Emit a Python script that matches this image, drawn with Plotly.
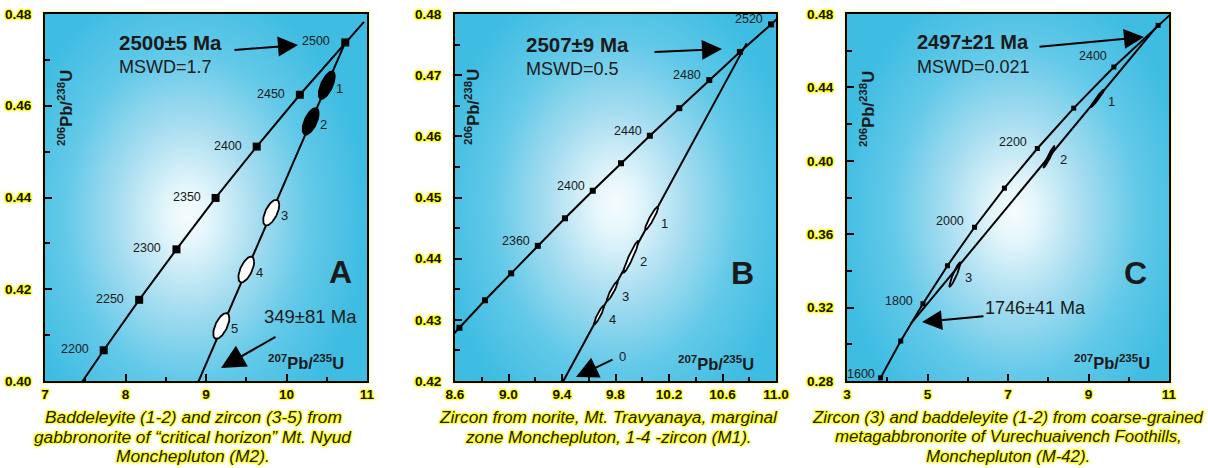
import numpy as np
import plotly.graph_objects as go

W, H = 1208, 468
FONT = "Arial, Liberation Sans, sans-serif"
GLOW = ("1px 1px 1px #ffff00, -1px -1px 1px #ffff00, 1px -1px 1px #ffff00, "
        "-1px 1px 1px #ffff00, 0px 0px 3px #ffff00")

# ================= DATA =================
# Panel A : concordia markers (age Ma, 207Pb/235U, 206Pb/238U)
A_age = [2200, 2250, 2300, 2350, 2400, 2450, 2500]
A_x = [7.729, 8.170, 8.633, 9.119, 9.630, 10.166, 10.730]
A_y = [0.4067, 0.4177, 0.4287, 0.4399, 0.4511, 0.4624, 0.4738]
A_end_x = [7.310, 10.963]          # concordia continues (2150 / 2520 Ma)
A_end_y = [0.3959, 0.4783]
A_lab = [2200, 2250, 2300, 2350, 2400, 2450, 2500]
A_disc_x = [0.410, 10.730]          # 349 Ma lower / 2500 Ma upper intercept
A_disc_y = [0.0556, 0.4738]
A_ell_id = ["1", "2", "3", "4", "5"]
A_ell_x = [10.50, 10.30, 9.81, 9.50, 9.19]
A_ell_y = [0.4645, 0.4566, 0.4367, 0.4243, 0.4120]
A_ell_sx = [0.100, 0.100, 0.100, 0.098, 0.100]
A_ell_sy = [0.0030, 0.0029, 0.0028, 0.0028, 0.0028]
A_ell_rho = [0.65, 0.60, 0.60, 0.60, 0.60]
A_ell_fill = ["black", "black", "white", "white", "white"]

# Panel B
B_age = [2300, 2320, 2340, 2360, 2380, 2400, 2420, 2440, 2460, 2480, 2500, 2520]
B_x = [8.633, 8.824, 9.020, 9.219, 9.422, 9.630, 9.841, 10.057, 10.277, 10.501, 10.730, 10.963]
B_y = [0.4287, 0.4332, 0.4376, 0.4421, 0.4466, 0.4511, 0.4556, 0.4601, 0.4646, 0.4692, 0.4738, 0.4783]
B_end_x = [8.445, 11.022]
B_end_y = [0.4243, 0.4795]
B_lab = [2360, 2400, 2440, 2480, 2520]
B_disc_x = [9.41, 10.78]
B_disc_y = [0.4200, 0.4752]
B_ell_id = ["1", "2", "3", "4"]
B_ell_x = [10.07, 9.915, 9.776, 9.677]
B_ell_y = [0.4466, 0.4403, 0.4347, 0.4308]
B_ell_sx = [0.049, 0.056, 0.041, 0.037]
B_ell_sy = [0.0019, 0.0026, 0.0016, 0.0015]
B_ell_rho = [0.93, 0.95, 0.93, 0.92]
B_ell_fill = ["white", "white", "white", "white"]

# Panel C
C_age = [1600, 1700, 1800, 1900, 2000, 2100, 2200, 2300, 2400, 2500]
C_x = [3.834, 4.335, 4.887, 5.496, 6.169, 6.911, 7.729, 8.633, 9.630, 10.730]
C_y = [0.2817, 0.3018, 0.3221, 0.3428, 0.3638, 0.3851, 0.4067, 0.4287, 0.4511, 0.4738]
C_end_x = [3.834, 11.022]
C_end_y = [0.2817, 0.4795]
C_lab = [1600, 1800, 2000, 2200, 2400]
C_disc_x = [4.582, 10.695]          # 1746 Ma lower / 2497 Ma upper intercept
C_disc_y = [0.3111, 0.4731]
C_ell_id = ["1", "2", "3"]
C_ell_x = [9.22, 8.02, 5.68]
C_ell_y = [0.4340, 0.4022, 0.3380]
C_ell_sx = [0.161, 0.137, 0.137]
C_ell_sy = [0.0047, 0.0058, 0.0066]
C_ell_rho = [0.97, 0.96, 0.93]
C_ell_fill = ["black", "black", "rgba(0,0,0,0)"]

# captions (one entry per line)
capA = ["Baddeleyite (1-2) and zircon (3-5) from",
        "gabbronorite of “critical horizon” Mt. Nyud",
        "Monchepluton (M2)."]
capB = ["Zircon from norite, Mt. Travyanaya, marginal",
        "zone Monchepluton, 1-4 -zircon (M1)."]
capC = ["Zircon (3) and baddeleyite (1-2) from coarse-grained",
        "metagabbronorite of Vurechuaivench Foothills,",
        "Monchepluton (M-42)."]

# ================= STYLE / LAYOUT =================
panels = [
    dict(key="", dom=(45, 367), xr=(7, 11), yr=(0.40, 0.48),
         xd=1, xm=0.5, xf="d", yd=0.02, ym=0.01, yf=".2f",
         age=A_age, x=A_x, y=A_y, ex=A_end_x, ey=A_end_y, lab=A_lab,
         dx=A_disc_x, dy=A_disc_y, ms=8,
         lab_shift=[(-13, 1)] * 7,
         ell=(A_ell_id, A_ell_x, A_ell_y, A_ell_sx, A_ell_sy, A_ell_rho, A_ell_fill),
         ell_shift=(13, -3), grad=(0.44, 0.55, 180, 240)),
    dict(key="2", dom=(455, 776), xr=(8.6, 11.0), yr=(0.42, 0.48),
         xd=0.4, xm=0.2, xf=".1f", yd=0.01, ym=0.005, yf=".2f",
         age=B_age, x=B_x, y=B_y, ex=B_end_x, ey=B_end_y, lab=B_lab,
         dx=B_disc_x, dy=B_disc_y, ms=6,
         lab_shift=[(-6, 5)] * 5,
         ell=(B_ell_id, B_ell_x, B_ell_y, B_ell_sx, B_ell_sy, B_ell_rho, B_ell_fill),
         ell_shift=(13, -5), grad=(0.50, 0.52, 180, 240)),
    dict(key="3", dom=(847, 1169), xr=(3, 11), yr=(0.28, 0.48),
         xd=2, xm=1, xf="d", yd=0.04, ym=0.02, yf=".2f",
         age=C_age, x=C_x, y=C_y, ex=C_end_x, ey=C_end_y, lab=C_lab,
         dx=C_disc_x, dy=C_disc_y, ms=5,
         lab_shift=[(-4, 4), (-8, 3), (-9, 6), (-8, 7), (-5, 11)],
         ell=(C_ell_id, C_ell_x, C_ell_y, C_ell_sx, C_ell_sy, C_ell_rho, C_ell_fill),
         ell_shift=(14, -3), grad=(0.52, 0.54, 180, 240)),
]
TOP, BOT = 14, 381
ydom = [1 - BOT / H, 1 - TOP / H]


def P(px, py):
    return px / W, 1 - py / H


fig = go.Figure()
annotations = []
shapes = []
layout = dict(width=W, height=H, margin=dict(l=0, r=0, t=0, b=0, autoexpand=False),
              paper_bgcolor="white", plot_bgcolor="rgba(0,0,0,0)", showlegend=False)

gscale = [[0.0, "#f7fcfe"], [0.12, "#e4f6fb"], [0.38, "#a8ddf0"],
          [0.68, "#63c9e8"], [1.0, "#3ebce2"]]

for p in panels:
    k = p["key"]
    xa, ya = "x" + k, "y" + k
    x0, x1 = p["dom"]
    wpx, hpx = x1 - x0, BOT - TOP
    # ---- background radial gradient ----
    n = 70
    u = np.linspace(0, 1, n)
    gx = p["xr"][0] + u * (p["xr"][1] - p["xr"][0])
    gy = p["yr"][0] + u * (p["yr"][1] - p["yr"][0])
    U, V = np.meshgrid(u, u)
    cxf, cyf, rx, ry = p["grad"]
    z = np.sqrt(((U - cxf) * wpx / rx) ** 2 + (((1 - V) - cyf) * hpx / ry) ** 2)
    z = np.clip(z, 0, 1)
    fig.add_trace(go.Heatmap(x=gx, y=gy, z=z, colorscale=gscale, zmin=0, zmax=1,
                             zsmooth="best", showscale=False, hoverinfo="skip",
                             xaxis=xa, yaxis=ya))
    # ---- discordia ----
    fig.add_trace(go.Scatter(x=p["dx"], y=p["dy"], mode="lines",
                             line=dict(color="black", width=2), xaxis=xa, yaxis=ya,
                             hoverinfo="skip"))
    # ---- concordia ----
    lx = [p["ex"][0]] + list(p["x"]) + [p["ex"][1]]
    ly = [p["ey"][0]] + list(p["y"]) + [p["ey"][1]]
    fig.add_trace(go.Scatter(x=lx, y=ly, mode="lines",
                             line=dict(color="black", width=2), xaxis=xa, yaxis=ya,
                             hoverinfo="skip"))
    fig.add_trace(go.Scatter(x=p["x"], y=p["y"], mode="markers",
                             marker=dict(symbol="square", size=p["ms"], color="black"),
                             xaxis=xa, yaxis=ya, hoverinfo="skip", cliponaxis=False))
    # ---- ellipses ----
    ids, ex, ey, sx, sy, rho, fills = p["ell"]
    t = np.linspace(0, 2 * np.pi, 80)
    for i in range(len(ids)):
        px_ = ex[i] + sx[i] * np.cos(t)
        py_ = ey[i] + sy[i] * (rho[i] * np.cos(t) + np.sqrt(1 - rho[i] ** 2) * np.sin(t))
        fig.add_trace(go.Scatter(x=px_, y=py_, mode="lines", fill="toself",
                                 fillcolor=fills[i], line=dict(color="black", width=1.8),
                                 xaxis=xa, yaxis=ya, hoverinfo="skip"))
        annotations.append(dict(x=ex[i], y=ey[i], xref=xa, yref=ya, text=ids[i],
                                showarrow=False, xshift=p["ell_shift"][0],
                                yshift=p["ell_shift"][1],
                                font=dict(family=FONT, size=13, color="#1a1a1a")))
    # ---- concordia age labels ----
    for j, a in enumerate(p["lab"]):
        i = p["age"].index(a)
        sxh, syh = p["lab_shift"][j]
        annotations.append(dict(x=p["x"][i], y=p["y"][i], xref=xa, yref=ya, text=str(a),
                                showarrow=False, xanchor="right", xshift=sxh, yshift=syh,
                                font=dict(family=FONT, size=12.5, color="#1a1a1a")))
    # ---- axes ----
    common = dict(showgrid=False, zeroline=False, showline=True, mirror=True,
                  linecolor="black", linewidth=2, ticks="inside", tickwidth=2,
                  tickcolor="black", automargin=False,
                  tickfont=dict(family=FONT, size=13.5, color="#111111", shadow=GLOW,
                                weight="bold"))
    layout["xaxis" + k] = dict(common, domain=[x0 / W, x1 / W], range=list(p["xr"]),
                               anchor=ya, dtick=p["xd"], tick0=p["xr"][0], ticklen=7,
                               tickformat=p["xf"],
                               minor=dict(dtick=p["xm"], tick0=p["xr"][0], ticks="inside",
                                          ticklen=4, tickwidth=2, tickcolor="black"))
    layout["yaxis" + k] = dict(common, domain=ydom, range=list(p["yr"]), anchor=xa,
                               dtick=p["yd"], tick0=p["yr"][0], ticklen=7,
                               tickformat=p["yf"], ticklabelstandoff=9,
                               minor=dict(dtick=p["ym"], tick0=p["yr"][0], ticks="inside",
                                          ticklen=5, tickwidth=2, tickcolor="black"))
    # yellow glow frame
    shapes.append(dict(type="rect", xref=xa + " domain", yref=ya + " domain",
                       x0=0, x1=1, y0=0, y1=1, layer="below",
                       line=dict(color="#ffff33", width=5)))


# ================= TEXT =================
def txt(px, py, s, size, bold=False, xanchor="center", angle=0, color="#1a1a1a",
        shadow=None, italic=False):
    x, y = P(px, py)
    f = dict(family=FONT, size=size, color=color)
    if shadow:
        f["shadow"] = shadow
    if italic:
        f["style"] = "italic"
    annotations.append(dict(x=x, y=y, xref="paper", yref="paper",
                            text=("<b>%s</b>" % s) if bold else s, showarrow=False,
                            xanchor=xanchor, yanchor="middle", textangle=angle, font=f))


def arrow(tx, ty, hx, hy, size=2.0, head=2):
    x, y = P(hx, hy)
    annotations.append(dict(x=x, y=y, xref="paper", yref="paper", text="",
                            showarrow=True, ax=tx - hx, ay=ty - hy, arrowhead=head,
                            arrowsize=size, arrowwidth=2, arrowcolor="black"))


XLAB = "<sup>207</sup>Pb/<sup>235</sup>U"
YLAB = "<sup>206</sup>Pb/<sup>238</sup>U"

# Panel A
txt(117, 42, "2500±5 Ma", 20.5, bold=True, xanchor="left")
txt(117, 67, "MSWD=1.7", 18, xanchor="left")
arrow(233, 50, 298, 45)
txt(340, 272, "A", 32, bold=True)
txt(310, 316, "349±81 Ma", 18.5)
arrow(277, 336, 221, 368, size=2.4)
txt(306, 362, XLAB, 16.5, bold=True)
txt(65, 108, YLAB, 16.5, bold=True, angle=-90)
# Panel B
txt(524, 45, "2507±9 Ma", 20.5, bold=True, xanchor="left")
txt(524, 69, "MSWD=0.5", 18, xanchor="left")
arrow(653, 52, 722, 49)
txt(743, 273, "B", 32, bold=True)
txt(622, 356, "0", 13)
arrow(614, 359, 576, 377, size=2.2)
txt(716, 363, XLAB, 16.5, bold=True)
txt(472, 107, YLAB, 16.5, bold=True, angle=-90)
# Panel C
txt(915, 42, "2497±21 Ma", 20, bold=True, xanchor="left")
txt(915, 67, "MSWD=0.021", 18, xanchor="left")
arrow(1038, 47, 1144, 37)
txt(1135, 273, "C", 32, bold=True)
txt(1035, 308, "1746±41 Ma", 18)
arrow(985, 316, 922, 322)
txt(1112, 362, XLAB, 16.5, bold=True)
txt(867, 109, YLAB, 16.5, bold=True, angle=-90)

# captions, one annotation per line
CAP = "#1a1a3a"
for cx, lines, fs in [(193, capA, 17.3), (608, capB, 17.2), (1008, capC, 16.8)]:
    for li, s in enumerate(lines):
        txt(cx, 417 + 19.5 * li, s, fs, color=CAP, shadow=GLOW, italic=True)

layout["annotations"] = annotations
layout["shapes"] = shapes
fig.update_layout(**layout)
fig.write_html("out.html", config={"displayModeBar": False},
               post_script="document.body.style.margin='0';"
                           "document.body.style.overflow='hidden';")
